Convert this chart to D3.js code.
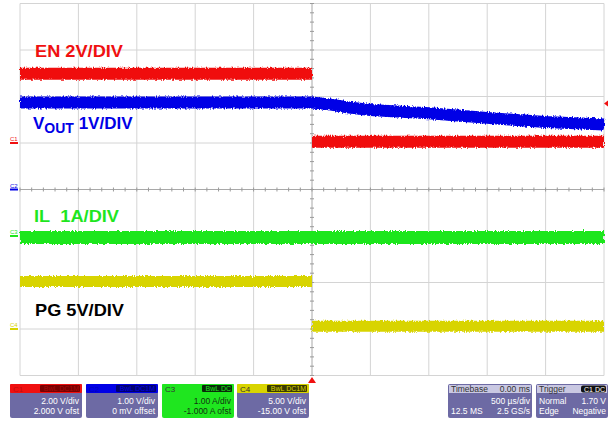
<!DOCTYPE html>
<html>
<head>
<meta charset="utf-8">
<script src="https://cdn.jsdelivr.net/npm/d3@7"></script>
<style>
  body { margin: 0; background: #fff; }
  text { font-family: Arial, "Liberation Sans", sans-serif; }
</style>
</head>
<body>
<div id="chart"></div>
<script>
const widthChart = 608;
const heightChart = 422;

// time in ms, 500 us/div, trigger at 0
const timeRange = [-2.5, 2.5];

const enTime = [-2.5, 0, 0, 2.5];
const enVolts = [2.98, 2.98, 0.05, 0.05];

const voutTime = [-2.5, 0, 0.15, 0.3, 0.5, 1.0, 1.5, 2.0, 2.5];
const voutVolts = [1.87, 1.87, 1.83, 1.77, 1.71, 1.64, 1.54, 1.45, 1.40];

const ilTime = [-2.5, 2.5];
const ilAmps = [-0.03, -0.03];

const pgTime = [-2.5, 0, 0, 2.5];
const pgVolts = [5.1, 5.1, 0.3, 0.3];

// scope channel settings
const chNames = ["C1", "C2", "C3", "C4"];
const chColors = ["#f01010", "#0000e6", "#1fe61f", "#d8d400"];
const chPerDiv = [2, 1, 1, 5];
const chOffset = [2, 0, -1, -15];
const chDivText = ["2.00 V/div", "1.00 V/div", "1.00 A/div", "5.00 V/div"];
const chOfsText = ["2.000 V ofst", "0 mV offset", "-1.000 A ofst", "-15.00 V ofst"];
const chBadge = ["BwL DC1M", "BwL DC1M", "BwL DC", "BwL DC1M"];

const traceLabels = ["EN 2V/DIV", "V", "IL\u00a0\u00a01A/DIV", "PG 5V/DIV"];

const plotL = 20, plotR = 604, plotT = 3.5, plotB = 375.5;

const svg = d3.select("#chart")
    .append("svg")
    .attr("width", widthChart)
    .attr("height", heightChart);

var defs = svg.append("defs");
var filt = defs.append("filter")
    .attr("id", "noise")
    .attr("x", "-2%").attr("y", "-50%")
    .attr("width", "104%").attr("height", "200%");
filt.append("feTurbulence")
    .attr("type", "fractalNoise")
    .attr("baseFrequency", "0.9 0.35")
    .attr("numOctaves", 2)
    .attr("seed", 3)
    .attr("result", "t");
filt.append("feDisplacementMap")
    .attr("in", "SourceGraphic")
    .attr("in2", "t")
    .attr("scale", 4)
    .attr("xChannelSelector", "R")
    .attr("yChannelSelector", "G");

var x = d3.scaleLinear().domain(timeRange).range([plotL, plotR]);
var yDiv = d3.scaleLinear().domain([-4, 4]).range([plotB, plotT]);

function chScale(i) {
    var c = -chOffset[i];
    return d3.scaleLinear()
        .domain([c - 4 * chPerDiv[i], c + 4 * chPerDiv[i]])
        .range([plotB, plotT]);
}

// grid
var grid = svg.append("g");
d3.range(-5, 6).forEach((d) => {
    grid.append("line")
        .attr("x1", x(d * 0.5)).attr("x2", x(d * 0.5))
        .attr("y1", plotT).attr("y2", plotB)
        .attr("stroke", d === 0 ? "#a8a8a8" : "#d4d4d4")
        .attr("stroke-width", 1);
});
d3.range(-4, 5).forEach((d) => {
    grid.append("line")
        .attr("x1", plotL).attr("x2", plotR)
        .attr("y1", yDiv(d)).attr("y2", yDiv(d))
        .attr("stroke", d === 0 ? "#a8a8a8" : "#d4d4d4")
        .attr("stroke-width", 1);
});
// minor ticks on center axes
d3.range(-25, 26).forEach((d) => {
    grid.append("line")
        .attr("x1", x(d * 0.1)).attr("x2", x(d * 0.1))
        .attr("y1", yDiv(0) - 2).attr("y2", yDiv(0) + 2)
        .attr("stroke", "#9a9a9a");
});
d3.range(-20, 21).forEach((d) => {
    grid.append("line")
        .attr("x1", x(0) - 2).attr("x2", x(0) + 2)
        .attr("y1", yDiv(d * 0.2)).attr("y2", yDiv(d * 0.2))
        .attr("stroke", "#9a9a9a");
});

// traces, split where time repeats (vertical edges are not drawn thick)
function segments(t, v) {
    var out = [], cur = [];
    t.forEach((d, i) => {
        if (i > 0 && d === t[i - 1]) {
            out.push(cur);
            cur = [];
        }
        cur.push([d, v[i]]);
    });
    out.push(cur);
    return out;
}

var traces = [
    { ch: 0, t: enTime, v: enVolts, w: 12 },
    { ch: 1, t: voutTime, v: voutVolts, w: 12 },
    { ch: 2, t: ilTime, v: ilAmps, w: 13 },
    { ch: 3, t: pgTime, v: pgVolts, w: 11 }
];

var tr = svg.append("g").attr("filter", "url(#noise)");
traces.forEach((s) => {
    var ys = chScale(s.ch);
    var line = d3.line().x(d => x(d[0])).y(d => ys(d[1]));
    segments(s.t, s.v).forEach((seg) => {
        tr.append("path")
            .attr("d", line(seg))
            .attr("fill", "none")
            .attr("stroke", chColors[s.ch])
            .attr("stroke-width", s.w);
    });
});

// channel ground markers on the left
chNames.forEach((n, i) => {
    var yy = chScale(i)(0);
    svg.append("line")
        .attr("x1", 10).attr("x2", 18)
        .attr("y1", yy).attr("y2", yy)
        .attr("stroke", chColors[i]).attr("stroke-width", 2);
    svg.append("text")
        .attr("x", 10).attr("y", yy - 2)
        .attr("font-size", 6)
        .attr("fill", chColors[i])
        .text(n);
});

// trace labels
var lab = svg.append("g").attr("font-weight", "bold").attr("font-size", 17);
lab.append("text").attr("x", 35).attr("y", 57)
    .attr("fill", chColors[0])
    .attr("textLength", 88).attr("lengthAdjust", "spacingAndGlyphs")
    .text(traceLabels[0]);
var vt = lab.append("text").attr("x", 33).attr("y", 129).attr("fill", chColors[1]);
vt.append("tspan").text(traceLabels[1]);
vt.append("tspan").attr("font-size", 14).attr("dy", 4).text("OUT");
vt.append("tspan").attr("dy", -4).text(" 1V/DIV");
lab.append("text").attr("x", 34).attr("y", 222)
    .attr("fill", chColors[2])
    .attr("textLength", 85).attr("lengthAdjust", "spacingAndGlyphs")
    .text(traceLabels[2]);
lab.append("text").attr("x", 35).attr("y", 316)
    .attr("fill", "#000")
    .attr("textLength", 89).attr("lengthAdjust", "spacingAndGlyphs")
    .text(traceLabels[3]);

// trigger markers
svg.append("path")
    .attr("d", "M" + x(0) + ",377 l-4,6 l8,0 z")
    .attr("fill", "#f01010");
var trigY = chScale(0)(1.70);
svg.append("path")
    .attr("d", "M604," + trigY + " l4,-3 l0,6 z")
    .attr("fill", "#f01010");

// bottom info boxes
const bodyColor = "#6d6aa4";
const boxX = [10, 86, 162, 237];
const boxW = 72;
const boxY = 384, boxH = 34, headH = 9;

chNames.forEach((n, i) => {
    var g = svg.append("g").attr("transform", "translate(" + boxX[i] + "," + boxY + ")");
    var isC3 = i === 2;
    g.append("rect").attr("width", boxW).attr("height", boxH).attr("rx", 2)
        .attr("fill", isC3 ? chColors[2] : bodyColor);
    g.append("rect").attr("width", boxW).attr("height", headH).attr("rx", 1)
        .attr("fill", chColors[i]);
    var dark = i === 2 || i === 3;
    g.append("text").attr("x", 3).attr("y", 7.5).attr("font-size", 8)
        .attr("fill", dark ? "#333" : d3.color(chColors[i]).darker(0.6))
        .text(n);
    var bw = chBadge[i] === "BwL DC" ? 30 : 40;
    g.append("rect").attr("x", boxW - bw - 2).attr("y", 1).attr("width", bw).attr("height", 7)
        .attr("rx", 1)
        .attr("fill", i === 0 ? "#7a0000" : i === 1 ? "#000070" : i === 2 ? "#0a2a0a" : "#3c3c00");
    g.append("text").attr("x", boxW - 3).attr("y", 7).attr("font-size", 7)
        .attr("text-anchor", "end")
        .attr("fill", d3.color(chColors[i]).darker(i === 0 ? 1 : 0))
        .text(chBadge[i]);
    g.append("text").attr("x", boxW - 3).attr("y", 20).attr("font-size", 8.5)
        .attr("text-anchor", "end").attr("fill", isC3 ? "#113311" : "#fff")
        .text(chDivText[i]);
    g.append("text").attr("x", boxW - 3).attr("y", 30).attr("font-size", 8.5)
        .attr("text-anchor", "end").attr("fill", isC3 ? "#113311" : "#fff")
        .text(chOfsText[i]);
});

// timebase and trigger
function infoBox(bx, w, head, headRight, rows, badge) {
    var g = svg.append("g").attr("transform", "translate(" + bx + "," + boxY + ")");
    g.append("rect").attr("width", w).attr("height", boxH).attr("rx", 2).attr("fill", bodyColor);
    g.append("rect").attr("x", 1).attr("y", 1).attr("width", w - 2).attr("height", headH - 1)
        .attr("fill", "#c9c8e2");
    g.append("text").attr("x", 3).attr("y", 7.5).attr("font-size", 8.5).attr("fill", "#333")
        .text(head);
    if (badge) {
        g.append("rect").attr("x", w - 27).attr("y", 1.5).attr("width", 25).attr("height", 7)
            .attr("rx", 2).attr("fill", "#111");
        g.append("text").attr("x", w - 3).attr("y", 7.5).attr("font-size", 7)
            .attr("text-anchor", "end").attr("fill", "#fff").text(headRight);
    } else {
        g.append("text").attr("x", w - 2).attr("y", 7.5).attr("font-size", 8.5)
            .attr("text-anchor", "end").attr("fill", "#333").text(headRight);
    }
    rows.forEach((r, k) => {
        if (r[0]) g.append("text").attr("x", 3).attr("y", 20 + k * 10).attr("font-size", 8.5)
            .attr("fill", "#fff").text(r[0]);
        g.append("text").attr("x", w - 2).attr("y", 20 + k * 10).attr("font-size", 8.5)
            .attr("text-anchor", "end").attr("fill", "#fff").text(r[1]);
    });
}
infoBox(448, 84, "Timebase", "0.00 ms", [["", "500 µs/div"], ["12.5 MS", "2.5 GS/s"]], false);
infoBox(536, 72, "Trigger", "C1 DC", [["Normal", "1.70 V"], ["Edge", "Negative"]], true);
</script>
</body>
</html>
